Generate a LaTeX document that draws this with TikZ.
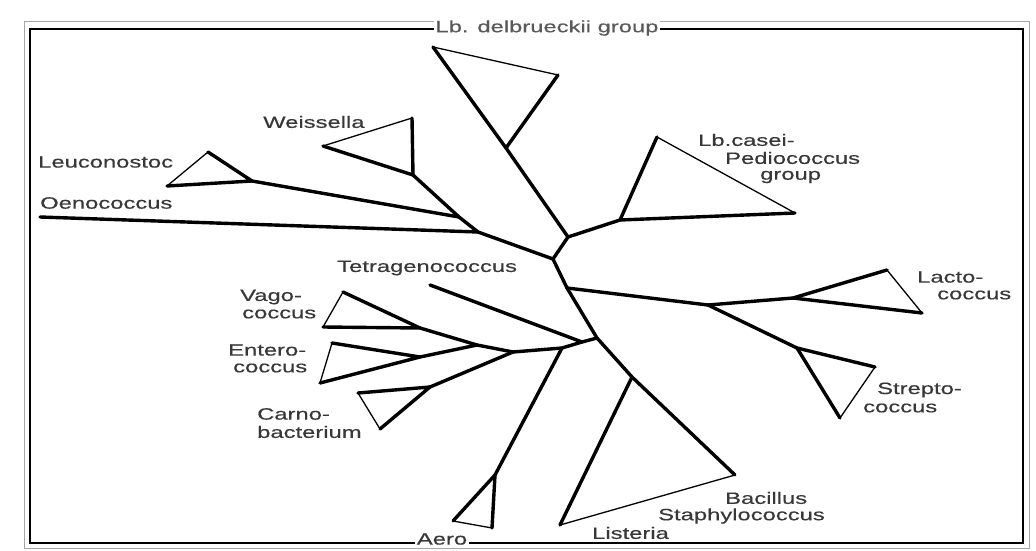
\documentclass[tikz,border=0pt]{standalone}
\usepackage{fontspec}
\newfontfamily\lab{Liberation Sans}[FakeStretch=1.45,FakeBold=0.4]
\begin{document}
\begin{tikzpicture}[x=1pt,y=-1pt]
\tikzset{
 br/.style={line width=3.4pt, line join=round, line cap=round},
 tn/.style={line width=1.3pt, line cap=round},
 lbl/.style={font=\lab\fontsize{16.4}{18}\selectfont, text=black!78, inner sep=0pt, anchor=west},
}
\useasboundingbox (0,0) rectangle (1036,551);
\fill[white] (0,0) rectangle (1036,551);
% frame
\draw[gray!70, line width=1pt] (24,22) rectangle (1029,548);
\draw[black, line width=2.4pt] (30,29) rectangle (1023,543);
% coordinates
\coordinate (LeT) at (208,152); \coordinate (LeL) at (167,186); \coordinate (LeJ) at (252,181);
\coordinate (WeT) at (412,118); \coordinate (WeL) at (323,146); \coordinate (WeJ) at (413,175);
\coordinate (J1) at (459,217); \coordinate (J2) at (478,232); \coordinate (Oe) at (40,217);
\coordinate (CL) at (553,259); \coordinate (CU) at (568,237);
\coordinate (DeT) at (433,47); \coordinate (DeR) at (558,75); \coordinate (DeJ) at (506,148);
\coordinate (CaT) at (657,137); \coordinate (CaR) at (795,213); \coordinate (CaJ) at (620,220);
\coordinate (LcJ) at (567,288); \coordinate (TJ) at (597,338); \coordinate (BJ) at (632,377);
\coordinate (BaL) at (560,525); \coordinate (BaR) at (735,475);
\coordinate (LcM) at (708,305); \coordinate (LaJ) at (793,298); \coordinate (LaT) at (887,270); \coordinate (LaR) at (922,313);
\coordinate (StJ) at (797,348); \coordinate (StR) at (875,367); \coordinate (StB) at (840,418);
\coordinate (TeE) at (430,285); \coordinate (TJ2) at (582,342); \coordinate (AJ) at (562,348);
\coordinate (AeJ) at (495,475); \coordinate (AeL) at (453,521); \coordinate (AeB) at (492,528);
\coordinate (VECJ) at (513,352); \coordinate (VEJ) at (477,345);
\coordinate (VaT) at (343,292); \coordinate (VaL) at (323,327); \coordinate (VaJ) at (420,328);
\coordinate (EnT) at (332,343); \coordinate (EnL) at (320,383); \coordinate (EnJ) at (420,357);
\coordinate (CbL) at (358,393); \coordinate (CbB) at (380,429); \coordinate (CbJ) at (430,387);
% tree
\draw[br] (LeL) -- (LeJ) -- (LeT); \draw[tn] (LeT) -- (LeL);
\draw[br] (LeJ) -- (J1);
\draw[br] (WeL) -- (WeJ) -- (WeT); \draw[tn] (WeT) -- (WeL);
\draw[br] (WeJ) -- (J1) -- (J2) -- (CL);
\draw[br] (Oe) -- (J2);
\draw[br] (DeT) -- (DeJ) -- (CU); \draw[br] (DeR) -- (DeJ); \draw[tn] (DeT) -- (DeR);
\draw[br] (CaT) -- (CaJ) -- (CaR); \draw[tn] (CaT) -- (CaR); \draw[br] (CU) -- (CaJ);
\draw[br] (CU) -- (CL) -- (LcJ) -- (TJ) -- (BJ) -- (BaR);
\draw[br] (BJ) -- (BaL); \draw[tn] (BaL) -- (BaR);
\draw[br] (LcJ) -- (LcM) -- (LaJ) -- (LaT); \draw[br] (LaJ) -- (LaR); \draw[tn] (LaT) -- (LaR);
\draw[br] (LcM) -- (StJ) -- (StR); \draw[br] (StJ) -- (StB); \draw[tn] (StR) -- (StB);
\draw[br] (TeE) -- (TJ2) -- (TJ);
\draw[br] (VEJ) -- (VECJ) -- (AJ) -- (TJ2);
\draw[br] (AJ) -- (AeJ) -- (AeL); \draw[br] (AeJ) -- (AeB); \draw[tn] (AeL) -- (AeB);
\draw[br] (VaT) -- (VaJ) -- (VaL); \draw[br] (VaJ) -- (VEJ); \draw[tn] (VaT) -- (VaL);
\draw[br] (EnT) -- (EnJ) -- (EnL); \draw[br] (EnJ) -- (VEJ); \draw[tn] (EnT) -- (EnL);
\draw[br] (CbL) -- (CbJ) -- (CbB); \draw[br] (CbJ) -- (VECJ); \draw[tn] (CbL) -- (CbB);
% labels
\node[lbl, anchor=center, fill=white, inner sep=2pt, text=black!65] (lDel) at (547,28) {Lb. delbrueckii group};
\node[lbl] (lWei) at (263,122) {Weissella};
\node[lbl] (lLeu) at (38,162) {Leuconostoc};
\node[lbl] (lOen) at (40,203) {Oenococcus};
\node[lbl] (lCas1) at (698,140) {Lb.casei-};
\node[lbl] (lCas2) at (725,158) {Pediococcus};
\node[lbl] (lCas3) at (760,177) {group};
\node[lbl] (lTet) at (337,268) {Tetragenococcus};
\node[lbl] (lVag1) at (240,297) {Vago-};
\node[lbl] (lVag2) at (242,314) {coccus};
\node[lbl] (lEnt1) at (228,350) {Entero-};
\node[lbl] (lEnt2) at (233,368) {coccus};
\node[lbl] (lCar1) at (257,414) {Carno-};
\node[lbl] (lCar2) at (257,432) {bacterium};
\node[lbl] (lLac1) at (917,277) {Lacto-};
\node[lbl] (lLac2) at (937,295) {coccus};
\node[lbl] (lStr1) at (877,390) {Strepto-};
\node[lbl] (lStr2) at (863,408) {coccus};
\node[lbl] (lBac1) at (725,498) {Bacillus};
\node[lbl] (lBac2) at (658,516) {Staphylococcus};
\node[lbl] (lLis) at (592,533) {Listeria};
\node[lbl, anchor=center, fill=white, inner sep=1.5pt] (lAer) at (442,539) {Aero};
\end{tikzpicture}
\end{document}
